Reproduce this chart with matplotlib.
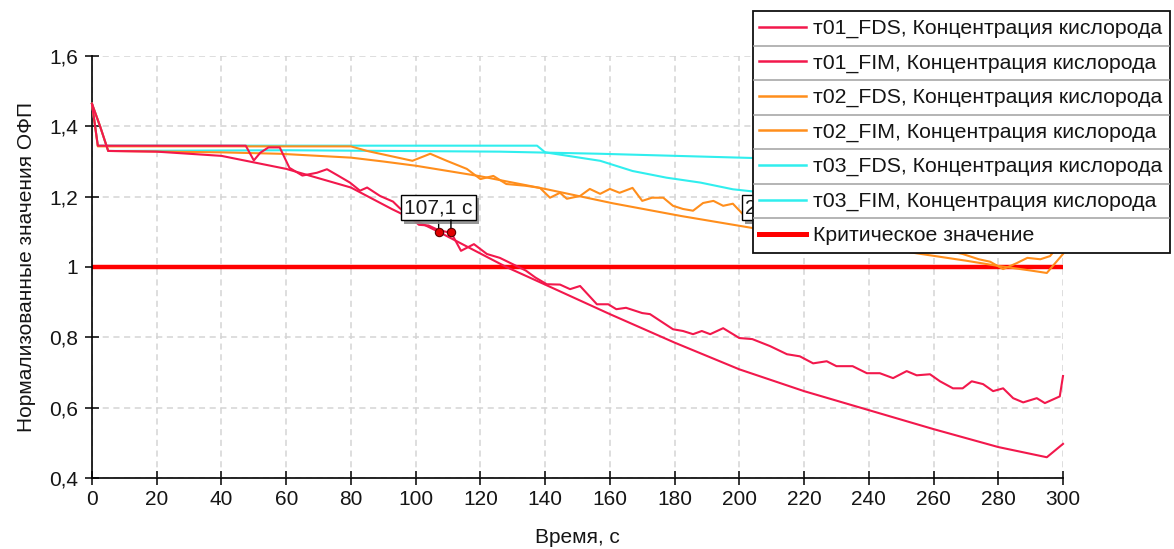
import matplotlib
matplotlib.use("Agg")
import matplotlib.pyplot as plt
import matplotlib.patheffects as pe
from matplotlib.lines import Line2D
from matplotlib.patches import Rectangle

plt.rcParams['font.family'] = ['Liberation Sans', 'DejaVu Sans']

# ---- data ----
t01_fds_t = [0, 1.8, 47.5, 50, 52, 54.5, 58, 61, 65, 69.5, 72.6, 76, 79.7, 82.8, 85, 89, 93, 95,
             101, 104, 107, 111, 114, 118, 122, 126, 130, 134, 137, 140.5, 144.6, 147.7, 150.8,
             156, 159.5, 162, 165, 170, 172.4, 179.5, 182.6, 185.7, 188.4, 191, 195, 200, 204,
             209.5, 214.7, 218.7, 222.8, 227, 230, 235, 239.4, 243.4, 247.5, 251.7, 254.8,
             258.9, 262, 266, 269, 271.8, 275.3, 278.4, 281.5, 284.6, 287.7, 291.9, 294.4, 299, 300]
t01_fds_v = [1.464, 1.345, 1.345, 1.303, 1.325, 1.340, 1.340, 1.282, 1.260, 1.268, 1.278, 1.260,
             1.240, 1.217, 1.226, 1.202, 1.186, 1.168, 1.120, 1.118, 1.105, 1.097, 1.046, 1.065,
             1.037, 1.026, 1.008, 0.990, 0.970, 0.951, 0.950, 0.937, 0.946, 0.894, 0.894, 0.880,
             0.884, 0.869, 0.866, 0.823, 0.818, 0.809, 0.818, 0.809, 0.826, 0.798, 0.795, 0.775,
             0.752, 0.746, 0.726, 0.732, 0.718, 0.718, 0.698, 0.698, 0.684, 0.704, 0.692, 0.695,
             0.675, 0.655, 0.655, 0.675, 0.667, 0.647, 0.655, 0.627, 0.615, 0.627, 0.613, 0.632, 0.690]

t01_fim_t = [0, 2.5, 5, 20, 40, 60, 80, 92.6, 107.1, 128, 140, 160, 180, 200, 220, 240, 260, 280, 295, 300]
t01_fim_v = [1.464, 1.400, 1.330, 1.328, 1.316, 1.279, 1.226, 1.165, 1.100, 1.000, 0.950, 0.866,
             0.785, 0.709, 0.647, 0.593, 0.539, 0.488, 0.459, 0.497]

t02_fds_t = [0, 1.8, 80, 85, 89, 95, 99, 104.5, 109.6, 115.8, 120, 124, 128, 134, 138.4, 141.5,
             144.6, 146.7, 150.8, 153.8, 157, 160, 163, 167, 170, 173, 176.5, 179.5, 182.6, 185.7,
             188.8, 192, 195, 198, 201, 210, 220, 230, 240, 250, 260, 269, 274, 277.5, 281.5,
             285.7, 289, 293, 296, 299, 300]
t02_fds_v = [1.464, 1.343, 1.343, 1.330, 1.322, 1.310, 1.302, 1.322, 1.302, 1.279, 1.250, 1.259,
             1.236, 1.231, 1.225, 1.197, 1.211, 1.194, 1.202, 1.222, 1.208, 1.222, 1.211, 1.225,
             1.188, 1.197, 1.197, 1.174, 1.165, 1.160, 1.182, 1.188, 1.174, 1.180, 1.151, 1.140,
             1.125, 1.110, 1.095, 1.075, 1.055, 1.037, 1.022, 1.015, 0.994, 1.011, 1.026, 1.022,
             1.031, 1.065, 1.080]

t02_fim_t = [0, 2.5, 5, 40, 58, 80, 90, 100, 120, 140, 161, 182, 204, 230, 254, 270, 280, 290, 295, 300]
t02_fim_v = [1.464, 1.400, 1.330, 1.326, 1.322, 1.311, 1.300, 1.288, 1.258, 1.222, 1.181, 1.145,
             1.111, 1.075, 1.040, 1.018, 1.003, 0.990, 0.983, 1.037]

t03_fds_t = [0, 1.8, 137.5, 140, 157, 167, 177.5, 188, 198, 202, 230, 260, 300]
t03_fds_v = [1.464, 1.345, 1.345, 1.326, 1.302, 1.273, 1.254, 1.240, 1.221, 1.217, 1.190, 1.160, 1.130]

t03_fim_t = [0, 2.5, 5, 60, 126, 157, 204, 250, 300]
t03_fim_v = [1.464, 1.400, 1.330, 1.332, 1.328, 1.322, 1.310, 1.300, 1.290]

crit_t = [0, 300]
crit_v = [1.0, 1.0]

mark_t = [107.1, 110.9]
mark_v = [1.10, 1.10]
callout2_t = 212.2
callout2_v = 1.10

x_ticks = [0, 20, 40, 60, 80, 100, 120, 140, 160, 180, 200, 220, 240, 260, 280, 300]
y_ticks = [0.4, 0.6, 0.8, 1.0, 1.2, 1.4, 1.6]
y_tick_labels = ['0,4', '0,6', '0,8', '1', '1,2', '1,4', '1,6']

legend_labels = ['т01_FDS, Концентрация кислорода', 'т01_FIM, Концентрация кислорода',
                 'т02_FDS, Концентрация кислорода', 'т02_FIM, Концентрация кислорода',
                 'т03_FDS, Концентрация кислорода', 'т03_FIM, Концентрация кислорода',
                 'Критическое значение']

RED = '#F2184C'
ORANGE = '#FF8E1C'
CYAN = '#30EEEE'
CRIT = '#FF0000'
legend_colors = [RED, RED, ORANGE, ORANGE, CYAN, CYAN, CRIT]

W, H = 1174, 549
fig = plt.figure(figsize=(W / 100, H / 100), dpi=100)
ax = fig.add_axes([92 / W, 1 - 478 / H, (1063 - 92) / W, (478 - 56) / H])

# critical line under everything
ax.plot(crit_t, crit_v, color=CRIT, lw=3.2, zorder=2, clip_on=False, solid_capstyle='butt')

series = [
    (t03_fim_t, t03_fim_v, CYAN),
    (t03_fds_t, t03_fds_v, CYAN),
    (t02_fim_t, t02_fim_v, ORANGE),
    (t02_fds_t, t02_fds_v, ORANGE),
    (t01_fim_t, t01_fim_v, RED),
    (t01_fds_t, t01_fds_v, RED),
]
for tt, vv, c in series:
    ax.plot(tt, vv, color=c, lw=1.5, zorder=3, clip_on=False, solid_joinstyle='round')

ax.set_xlim(0, 300)
ax.set_ylim(0.4, 1.6)
ax.set_xticks(x_ticks)
ax.set_yticks(y_ticks)
ax.set_yticklabels(y_tick_labels)
ax.grid(True, color='#D4D4D4', lw=1.1, linestyle=(0, (4, 3)))
ax.set_axisbelow(True)
for s in ['top', 'right']:
    ax.spines[s].set_visible(False)
for s in ['left', 'bottom']:
    ax.spines[s].set_linewidth(1.2)
ax.tick_params(axis='both', direction='inout', length=9.5, width=1.2, labelsize=15, colors='#151515')
ax.tick_params(axis='y', pad=5)
ax.tick_params(axis='x', pad=4)

ax.set_xlabel('Время, с', fontsize=15, color='#151515')
ax.xaxis.set_label_coords(0.5, -0.118)
ax.set_ylabel('Нормализованные значения ОФП', fontsize=15, color='#151515')
ax.yaxis.set_label_coords(-0.058, 0.5)

# callouts with a small drop shadow
box = dict(boxstyle='square,pad=0.15', fc='white', ec='black', lw=1)
stem = dict(arrowstyle='-', color='black', lw=1, shrinkA=0, shrinkB=0)
shadow_fx = [pe.SimplePatchShadow(offset=(2.2, -2.2), shadow_rgbFace='#8c8c8c', alpha=0.9), pe.Normal()]

c1 = ax.annotate('107,1 с', xy=(mark_t[0], mark_v[0]), xytext=(0, 24), textcoords='offset pixels',
                 ha='center', va='center', fontsize=15, color='#1a1a1a', bbox=box,
                 arrowprops=stem, zorder=5)
c1.get_bbox_patch().set_path_effects(shadow_fx)
ax.annotate('', xy=(mark_t[1], mark_v[1]), xytext=(0, 12), textcoords='offset pixels',
            arrowprops=stem, zorder=5)

c2 = ax.annotate('212,2 с', xy=(callout2_t, callout2_v), xytext=(0, 24), textcoords='offset pixels',
                 ha='center', va='center', fontsize=15, color='#1a1a1a', bbox=box,
                 arrowprops=stem, zorder=5)
c2.get_bbox_patch().set_path_effects(shadow_fx)

ax.plot(mark_t + [callout2_t], mark_v + [callout2_v], 'o', ms=6, mfc='#E00000', mec='#5a0000',
        mew=0.8, zorder=6, clip_on=False)

# legend box with row separators
def fx(px):
    return px / W

def fy(py):
    return 1 - py / H

lx0, lx1, ly0, ly1 = 753, 1170, 11, 253
fig.add_artist(Rectangle((fx(lx0), fy(ly1)), fx(lx1) - fx(lx0), (ly1 - ly0) / H,
                         transform=fig.transFigure, fc='white', ec='#101010', lw=1.3, zorder=10))
row_h = (ly1 - ly0) / len(legend_labels)
for i, (lab, c) in enumerate(zip(legend_labels, legend_colors)):
    top = ly0 + i * row_h
    mid = top + row_h / 2
    if i > 0:
        fig.add_artist(Line2D([fx(lx0 + 1), fx(lx1 - 1)], [fy(top), fy(top)],
                              transform=fig.transFigure, color='#A8A8A8', lw=1.2, zorder=11))
    lw = 3.6 if i == len(legend_labels) - 1 else 1.8
    fig.add_artist(Line2D([fx(759), fx(806)], [fy(mid - 1.5), fy(mid - 1.5)],
                          transform=fig.transFigure, color=c, lw=lw, zorder=11))
    fig.text(fx(813), fy(mid + 5.5), lab, ha='left', va='baseline', fontsize=15.3,
             color='#151515', zorder=12)

fig.savefig('out.png', dpi=100, facecolor='white')
